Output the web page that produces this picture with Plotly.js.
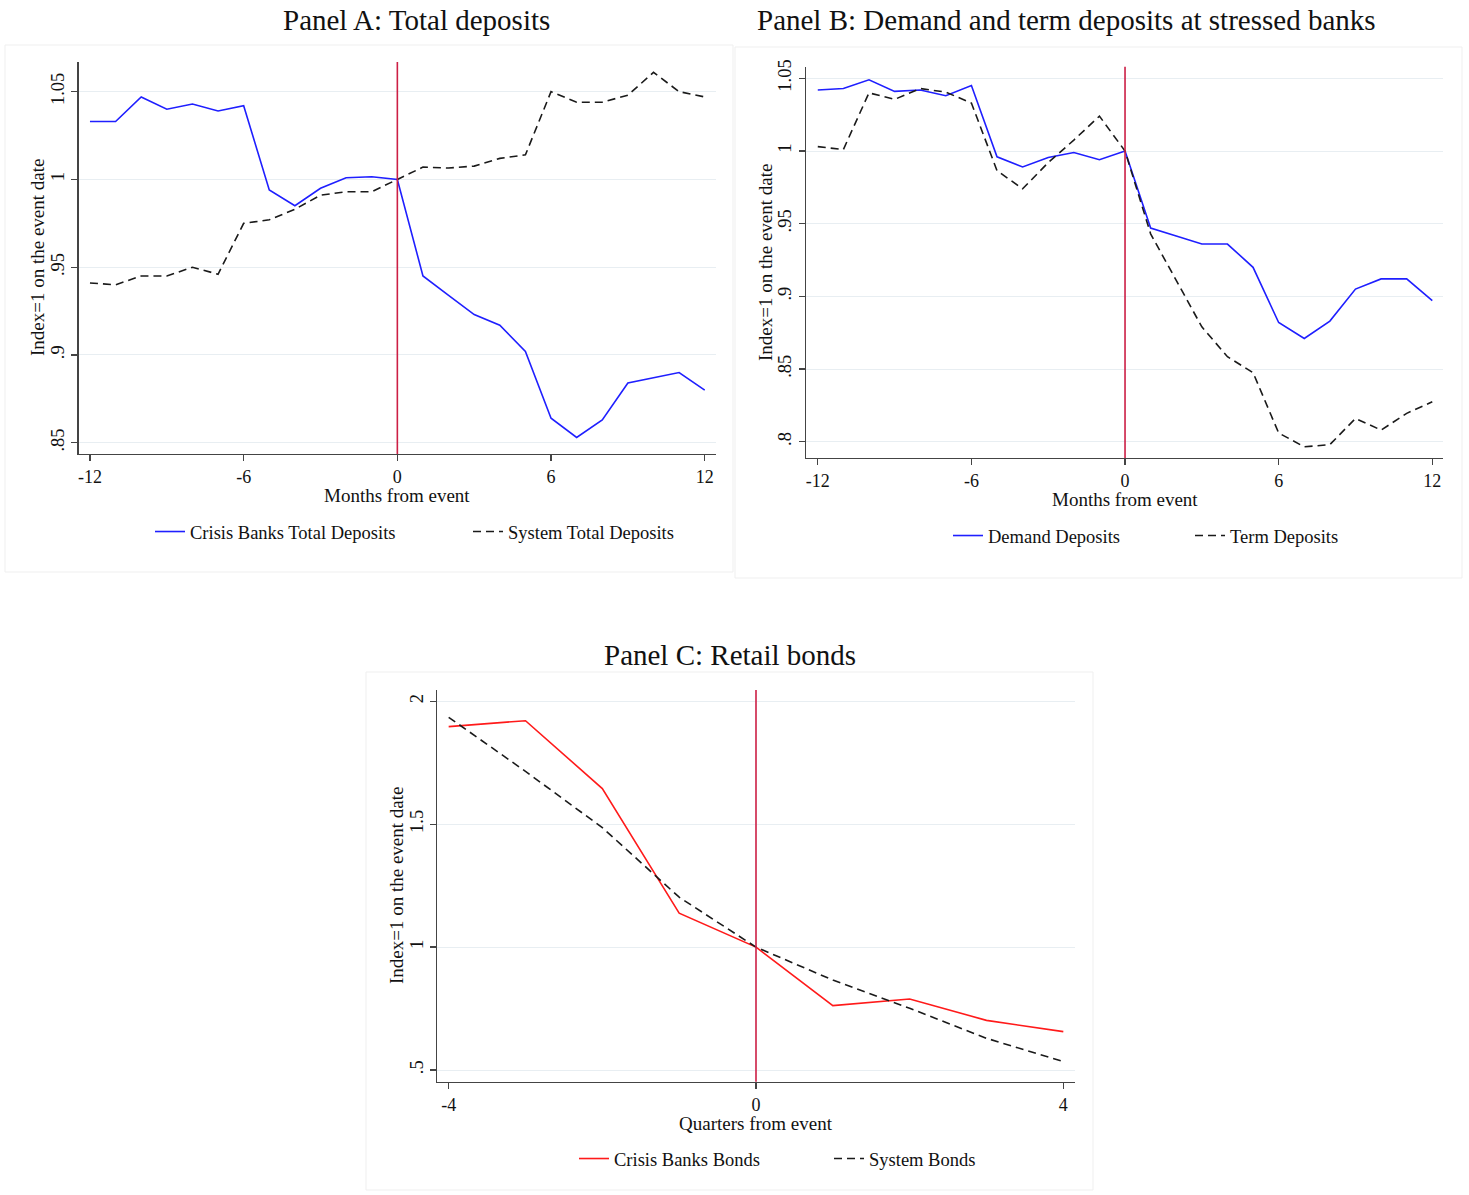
<!DOCTYPE html>
<html>
<head>
<meta charset="utf-8">
<script src="https://cdn.plot.ly/plotly-3.0.1.min.js"></script>
<style>html,body{margin:0;padding:0;background:#fff;}#chart{width:1469px;height:1195px;}</style>
</head>
<body>
<div id="chart"></div>
<script>
// ---- data ----
const months = [-12,-11,-10,-9,-8,-7,-6,-5,-4,-3,-2,-1,0,1,2,3,4,5,6,7,8,9,10,11,12];
const crisisTotal = [1.033,1.033,1.047,1.040,1.043,1.039,1.042,0.994,0.985,0.995,1.001,1.0015,1.000,0.945,0.934,0.923,0.917,0.902,0.864,0.853,0.863,0.884,0.887,0.890,0.880];
const systemTotal = [0.941,0.940,0.945,0.945,0.950,0.946,0.975,0.977,0.983,0.991,0.993,0.993,1.000,1.007,1.0065,1.0076,1.012,1.014,1.050,1.044,1.044,1.048,1.061,1.050,1.047];
const demandDep = [1.042,1.043,1.049,1.041,1.042,1.038,1.045,0.996,0.989,0.9955,0.999,0.994,1.000,0.947,0.9415,0.936,0.936,0.920,0.882,0.871,0.883,0.905,0.912,0.912,0.897];
const termDep = [1.003,1.001,1.040,1.0355,1.043,1.0405,1.033,0.9865,0.974,0.992,1.0075,1.024,1.000,0.943,0.911,0.879,0.8585,0.8475,0.806,0.7965,0.798,0.816,0.808,0.8195,0.8275];
const quarters = [-4,-3,-2,-1,0,1,2,3,4];
const crisisBonds = [1.897,1.921,1.645,1.138,1.000,0.762,0.789,0.702,0.656];
const systemBonds = [1.935,1.715,1.486,1.203,1.000,0.866,0.751,0.629,0.534];

const monthTicks = [-12,-6,0,6,12];
const quarterTicks = [-4,0,4];
const yTicksA = [0.85,0.9,0.95,1,1.05];
const yTextA = ['.85','.9','.95','1','1.05'];
const yTicksB = [0.8,0.85,0.9,0.95,1,1.05];
const yTextB = ['.8','.85','.9','.95','1','1.05'];
const yTicksC = [0.5,1,1.5,2];
const yTextC = ['.5','1','1.5','2'];
const yTitle = 'Index=1 on the event date';
const xTitleMonths = 'Months from event';
const xTitleQuarters = 'Quarters from event';

// ---- styles ----
const FONT = 'Liberation Serif, Times New Roman, serif';
const BLUE = '#1f1fff', RED = '#ff1a1a', BLACK = '#1a1a1a', VLINE = '#cc1f45';
const DASH = '8px,5px';
const W = 1469, H = 1195;
const px = v => v / W, py = v => 1 - v / H;

const traces = [
  {x: months, y: crisisTotal, name: 'Crisis Banks Total Deposits', mode: 'lines', line: {color: BLUE, width: 1.6}, xaxis: 'x', yaxis: 'y', legend: 'legend'},
  {x: months, y: systemTotal, name: 'System Total Deposits', mode: 'lines', line: {color: BLACK, width: 1.6, dash: DASH}, xaxis: 'x', yaxis: 'y', legend: 'legend'},
  {x: months, y: demandDep, name: 'Demand Deposits', mode: 'lines', line: {color: BLUE, width: 1.6}, xaxis: 'x2', yaxis: 'y2', legend: 'legend2'},
  {x: months, y: termDep, name: 'Term Deposits', mode: 'lines', line: {color: BLACK, width: 1.6, dash: DASH}, xaxis: 'x2', yaxis: 'y2', legend: 'legend2'},
  {x: quarters, y: crisisBonds, name: 'Crisis Banks Bonds', mode: 'lines', line: {color: RED, width: 1.6}, xaxis: 'x3', yaxis: 'y3', legend: 'legend3'},
  {x: quarters, y: systemBonds, name: 'System Bonds', mode: 'lines', line: {color: BLACK, width: 1.6, dash: DASH}, xaxis: 'x3', yaxis: 'y3', legend: 'legend3'}
];

function xax(domain, range, tickvals, anchor) {
  return {domain, range, tickvals, ticktext: tickvals.map(String), anchor,
    ticks: 'outside', ticklen: 6, tickwidth: 1.2, tickcolor: '#444',
    showline: true, linecolor: '#444', linewidth: 1.3, zeroline: false, showgrid: false,
    tickfont: {family: FONT, size: 18, color: '#111'},
    automargin: false, fixedrange: true};
}
function yax(domain, range, tickvals, ticktext, anchor) {
  return {domain, range, tickvals, ticktext, anchor, tickangle: -90,
    ticks: 'outside', ticklen: 6, tickwidth: 1.2, tickcolor: '#444',
    showline: true, linecolor: '#444', linewidth: 1.3, zeroline: false,
    showgrid: true, gridcolor: '#e8eef2', gridwidth: 1,
    tickfont: {family: FONT, size: 18.5, color: '#111'},
    automargin: false, fixedrange: true};
}

function legendAt(xLeft, yMid, entry) {
  return {orientation: 'h', x: px(xLeft), xanchor: 'left', y: py(yMid), yanchor: 'middle',
    entrywidth: entry, entrywidthmode: 'pixels', bgcolor: 'rgba(0,0,0,0)',
    font: {family: FONT, size: 18.5, color: '#111'}, itemclick: false, itemdoubleclick: false};
}

function box(x0, y0, x1, y1) {
  return {type: 'rect', xref: 'paper', yref: 'paper', x0: px(x0), x1: px(x1), y0: py(y1), y1: py(y0),
    line: {color: '#efefef', width: 1}, fillcolor: 'rgba(0,0,0,0)', layer: 'below'};
}
function vline(xr, yr) {
  return {type: 'line', xref: xr, yref: yr + ' domain', x0: 0, x1: 0, y0: 0, y1: 1,
    line: {color: VLINE, width: 1.6}};
}
function label(text, x, y, size, angle) {
  return {text, xref: 'paper', yref: 'paper', x: px(x), y: py(y), xanchor: 'center', yanchor: 'middle',
    showarrow: false, textangle: angle || 0, font: {family: FONT, size, color: '#111'}};
}

const layout = {
  width: W, height: H, margin: {l: 0, r: 0, t: 0, b: 0, autoexpand: false},
  paper_bgcolor: '#fff', plot_bgcolor: '#fff', showlegend: true,
  font: {family: FONT, color: '#111'},
  xaxis: xax([px(78.7), px(716)], [-12.44, 12.44], monthTicks, 'y'),
  yaxis: yax([py(454), py(62)], [0.8436, 1.0669], yTicksA, yTextA, 'x'),
  xaxis2: xax([px(806), px(1443.3)], [-12.46, 12.43], monthTicks, 'y2'),
  yaxis2: yax([py(458), py(66.7)], [0.7888, 1.058], yTicksB, yTextB, 'x2'),
  xaxis3: xax([px(437.3), px(1075)], [-4.148, 4.152], quarterTicks, 'y3'),
  yaxis3: yax([py(1081.7), py(690)], [0.4524, 2.046], yTicksC, yTextC, 'x3'),
  legend: legendAt(150, 532, 273),
  legend2: legendAt(948, 536, 197),
  legend3: legendAt(574, 1159, 210),
  shapes: [
    box(5, 45, 733, 572), box(735, 47, 1462, 578), box(366, 672, 1093, 1190),
    vline('x', 'y'), vline('x2', 'y2'), vline('x3', 'y3')
  ],
  annotations: [
    label('Panel A: Total deposits', 416, 20, 29),
    label('Panel B: Demand and term deposits at stressed banks', 1066, 20, 29),
    label('Panel C: Retail bonds', 730, 655, 29),
    label(xTitleMonths, 397, 495, 19),
    label(xTitleMonths, 1125, 499.5, 19),
    label(xTitleQuarters, 756, 1123, 19),
    label(yTitle, 37, 258, 19, -90),
    label(yTitle, 765, 262, 19, -90),
    label(yTitle, 396, 886, 19, -90)
  ]
};

Plotly.newPlot('chart', traces, layout, {displayModeBar: false, staticPlot: true});
</script>
</body>
</html>
